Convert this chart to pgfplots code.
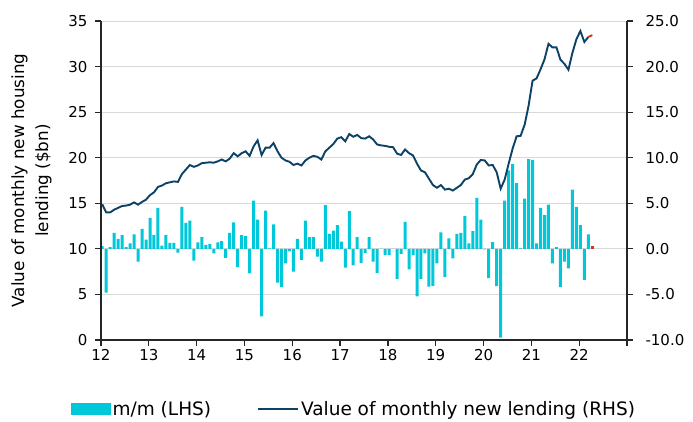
\documentclass[border=0pt]{standalone}
\usepackage{fontspec}
\setmainfont{DejaVu Sans}
\usepackage{pgfplots}
\usepackage{pgfplotstable}
\pgfplotsset{compat=1.18}

\definecolor{mmcyan}{RGB}{0,200,218}
\definecolor{lendnavy}{RGB}{12,66,102}
\definecolor{lastred}{RGB}{214,50,30}
\definecolor{gridgray}{RGB}{217,217,217}

% n = months since Jan 2012; val = $bn (left axis); mm = % m/m (right axis)
\pgfplotstableread{
n val mm
0 14.9 0.3
1 14.0 -4.8
2 14.0 0.2
3 14.3 1.75
4 14.5 1.1
5 14.7 1.5
6 14.75 0.2
7 14.85 0.6
8 15.1 1.6
9 14.85 -1.4
10 15.15 2.2
11 15.4 1.0
12 15.9 3.4
13 16.2 1.5
14 16.8 4.5
15 16.95 0.35
16 17.2 1.5
17 17.3 0.65
18 17.4 0.65
19 17.35 -0.4
20 18.2 4.6
21 18.7 2.85
22 19.2 3.1
23 19.0 -1.3
24 19.15 0.7
25 19.4 1.3
26 19.45 0.45
27 19.5 0.55
28 19.45 -0.5
29 19.6 0.7
30 19.8 0.85
31 19.6 -1.0
32 19.9 1.75
33 20.5 2.9
34 20.15 -2.0
35 20.5 1.5
36 20.7 1.4
37 20.2 -2.7
38 21.25 5.3
39 21.9 3.2
40 20.3 -7.4
41 21.1 4.2
42 21.1 0.05
43 21.6 2.7
44 20.7 -3.7
45 20.0 -4.2
46 19.7 -1.6
47 19.55 -0.25
48 19.2 -2.5
49 19.35 1.1
50 19.15 -1.2
51 19.7 3.1
52 20.0 1.3
53 20.2 1.3
54 20.1 -0.85
55 19.8 -1.4
56 20.7 4.8
57 21.1 1.65
58 21.5 2.0
59 22.1 2.6
60 22.25 0.8
61 21.8 -2.05
62 22.6 4.15
63 22.3 -1.8
64 22.5 1.3
65 22.15 -1.55
66 22.1 -0.45
67 22.35 1.3
68 22.0 -1.4
69 21.45 -2.65
70 21.35 0.0
71 21.3 -0.65
72 21.2 -0.65
73 21.15 0.0
74 20.45 -3.3
75 20.3 -0.55
76 20.9 2.95
77 20.5 -2.25
78 20.25 -0.7
79 19.35 -5.2
80 18.6 -3.3
81 18.4 -0.5
82 17.7 -4.15
83 17.0 -4.05
84 16.7 -1.6
85 17.0 1.8
86 16.5 -3.1
87 16.6 1.15
88 16.4 -1.05
89 16.7 1.65
90 17.0 1.75
91 17.6 3.6
92 17.75 0.6
93 18.2 1.95
94 19.25 5.6
95 19.75 3.2
96 19.7 -0.05
97 19.15 -3.2
98 19.2 0.75
99 18.4 -4.1
100 16.6 -9.75
101 17.6 5.3
102 19.35 8.6
103 21.0 9.3
104 22.35 7.2
105 22.4 0.05
106 23.6 5.5
107 25.7 9.85
108 28.45 9.75
109 28.7 0.6
110 29.7 4.5
111 30.8 3.7
112 32.5 4.85
113 32.1 -1.6
114 32.1 0.2
115 30.75 -4.2
116 30.3 -1.4
117 29.65 -2.15
118 31.5 6.5
119 33.0 4.6
120 33.9 2.6
121 32.7 -3.4
122 33.25 1.6
}\lending

% latest month, drawn in red
\pgfplotstableread{
n val
122 33.25
123 33.45
}\lastline
\pgfplotstableread{
n mm
123 0.3
}\lastbar

\begin{document}
\begin{tikzpicture}
\pgfplotsset{
  every axis/.append style={
    scale only axis, width=526pt, height=319pt,
    xmin=12, xmax=23,
    tick align=outside, major tick length=6pt,
    axis line style={black!85, line width=1.2pt},
    tick style={black!85, line width=1.2pt},
    tick label style={font=\fontsize{15}{17}\selectfont},
    /pgf/number format/assume math mode=true,
  },
}
% bars, right-hand scale
\begin{axis}[
  axis x line=none, axis y line*=right,
  ymin=-10, ymax=25, ytick={-10,-5,...,25},
  yticklabel style={xshift=9pt, /pgf/number format/.cd, fixed, fixed zerofill, precision=1},
  ymajorgrids, grid style={gridgray, line width=1pt},
  ybar, bar width=3pt, bar shift=0pt,
]
\addplot[fill=mmcyan, draw=none] table[x expr=12+(\thisrow{n}+0.3)/12, y=mm] {\lending};
\addplot[fill=lastred, draw=none] table[x expr=12+(\thisrow{n}+0.3)/12, y=mm] {\lastbar};
\end{axis}
% line, left-hand scale
\begin{axis}[
  axis x line*=bottom, axis y line*=left,
  ymin=0, ymax=35, ytick={0,5,...,35},
  yticklabel style={xshift=-4pt},
  xtick={12,...,23}, xticklabels={12,13,14,15,16,17,18,19,20,21,22,{}},
  ylabel={Value of monthly new housing\\lending (\$bn)},
  ylabel style={align=center, font=\fontsize{16.8}{24}\selectfont},
  ylabel shift=10pt,
  legend style={at={(-0.057,-0.216)}, anchor=west, draw=none, fill=none,
    inner sep=0pt, font=\fontsize{18.5}{20}\selectfont,
    /tikz/every even column/.append style={column sep=44pt}},
  legend columns=2, legend cell align=left,
]
\addlegendimage{legend image code/.code={\fill[mmcyan] (0pt,-5.5pt) rectangle (39pt,5.5pt);}}
\addplot[lendnavy, line width=1.9pt, legend image code/.code={\draw[lendnavy, line width=1.9pt] (0pt,0pt) -- (40pt,0pt);}]
  table[x expr=12+(\thisrow{n}+0.3)/12, y=val] {\lending};
\addplot[lastred, line width=1.9pt, forget plot]
  table[x expr=12+(\thisrow{n}+0.3)/12, y=val] {\lastline};
\legend{m/m (LHS), Value of monthly new lending (RHS)}
\end{axis}
\path[use as bounding box] (-101pt,-81pt) rectangle (592pt,340pt);
\end{tikzpicture}
\end{document}
